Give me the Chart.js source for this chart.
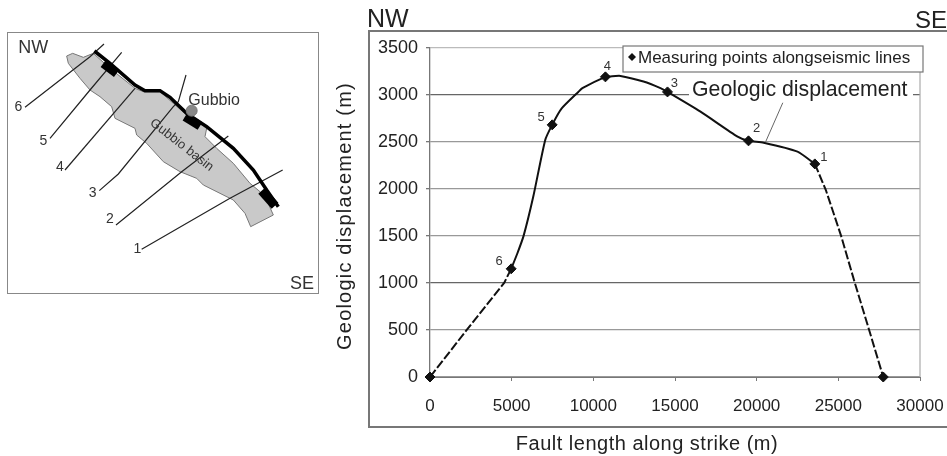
<!DOCTYPE html>
<html><head><meta charset="utf-8">
<script src="https://cdn.jsdelivr.net/npm/chart.js@4"></script>
<style>
html,body{margin:0;padding:0;background:#fff;overflow:hidden}
#wrap{position:relative;width:947px;height:456px}
canvas{position:absolute;display:block}
#frameMain{position:absolute;left:368px;top:30px;width:590px;height:394px;border:2px solid #777;box-sizing:content-box}
#frameMap{position:absolute;left:7px;top:32px;width:310px;height:260px;border:1.5px solid #888}
</style></head><body>
<div id="wrap">
<div id="frameMain"></div><div id="frameMap"></div>
<canvas id="main" width="947" height="456" style="left:0;top:0"></canvas>
<canvas id="map" width="330" height="290" style="left:0;top:20px"></canvas>
</div>
<script>
// ---- profile data (fault length m, displacement m)
const measuringX = [0, 4970, 7480, 10740, 14540, 19500, 23560, 27750];
const measuringY = [0, 1150, 2680, 3190, 3030, 2510, 2265, 0];
const solidX = [4970, 5340, 5730, 6320, 7055, 7480, 8040, 9080, 9330, 10740, 11040, 11660, 13070, 14110, 14540, 16560, 18830, 19500, 20430, 22500, 23560];
const solidY = [1150, 1310, 1500, 1915, 2520, 2680, 2850, 3030, 3070, 3190, 3195, 3200, 3140, 3070, 3030, 2820, 2555, 2510, 2490, 2395, 2265];
const dashLeftX = [0, 2250, 4540, 4970];
const dashLeftY = [0, 500, 1000, 1150];
const dashRightX = [23560, 24230, 25170, 26010, 26885, 27750];
const dashRightY = [2265, 1990, 1500, 1000, 500, 0];
const leaderX = [20550, 21600];
const leaderY = [2500, 2915];
const plotEdgeX = [30000, 30000];
const plotEdgeY = [0, 3500];
const pointNames = ['', '6', '5', '4', '3', '2', '1', ''];
const pointNameDx = [0, -12, -11, 2, 7, 8, 9, 0];
const pointNameDy = [0, -7, -7, -10, -8, -12, -6, 0];
const xTitleText = 'Fault length along strike (m)';
const yTitleText = 'Geologic displacement (m)';
const legendText = 'Measuring points alongseismic lines';
const calloutText = 'Geologic displacement';

// ---- map data (sketch coordinates)
const basinOutline = [[200,108],[218,100],[250,112],[280,100],[330,145],[405,205],[430,215],[480,215],[520,250],[560,285],[620,325],[615,350],[650,385],[700,430],[750,490],[780,515],[800,540],[820,585],[752,620],[735,580],[700,540],[660,520],[610,495],[590,475],[540,455],[490,425],[440,370],[410,345],[405,325],[345,295],[335,260],[300,230],[270,210],[240,175],[205,130],[200,108]];
const faultTrace = [[283,93],[330,130],[405,195],[435,212],[480,212],[510,232],[560,280],[620,320],[700,385],[760,450],[800,510],[835,560]];
const faultThick = [[[310,130],[350,160]],[[555,290],[600,318]],[[785,512],[825,557]]];
const seismicLines = [
 [[75,262],[270,110],[312,72]],
 [[150,355],[270,210],[365,97]],
 [[195,450],[405,205]],
 [[298,512],[355,462],[520,260],[535,245],[558,165]],
 [[348,615],[545,455],[685,348]],
 [[425,688],[690,535],[848,450]]
];
const gubbioDot = [[575,272]];
const lineNames = ['6','5','4','3','2','1'];
const lineNamePos = [[55,262],[130,362],[180,440],[278,518],[330,597],[412,686]];

const FONT = '"Liberation Sans", Arial, sans-serif';
const zip = (a, b) => a.map((v, i) => ({x: v, y: b[i]}));
const pts = a => a.map(p => ({x: p[0], y: p[1]}));

const plotRight = {
  id: 'plotRight',
  afterLayout(c) {
    const R = 920, a = c.chartArea, s = c.scales.x;
    a.right = R; a.width = R - a.left;
    s.right = R; s.width = R - s.left; s.paddingRight = 0;
    s.configure();
  }
};

const mainAnnot = {
  id: 'mainAnnot',
  afterDatasetsDraw(c) {
    const ctx = c.ctx, sx = c.scales.x, sy = c.scales.y;
    ctx.save();
    ctx.textBaseline = 'middle';
    // point numbers
    ctx.fillStyle = '#333'; ctx.font = '13px ' + FONT; ctx.textAlign = 'center';
    pointNames.forEach((n, i) => {
      if (n) ctx.fillText(n, sx.getPixelForValue(measuringX[i]) + pointNameDx[i], sy.getPixelForValue(measuringY[i]) + pointNameDy[i]);
    });
    // callout
    ctx.fillStyle = '#fff'; ctx.fillRect(689, 78, 224, 24);
    ctx.fillStyle = '#222'; ctx.font = '21.3px ' + FONT; ctx.textAlign = 'left';
    ctx.fillText(calloutText, 692, 90);
    // legend
    ctx.fillStyle = '#fff'; ctx.strokeStyle = '#777'; ctx.lineWidth = 1.2;
    ctx.fillRect(623, 46, 300, 26); ctx.strokeRect(623, 46, 300, 26);
    ctx.fillStyle = '#111';
    ctx.beginPath(); ctx.moveTo(632,53); ctx.lineTo(636,57); ctx.lineTo(632,61); ctx.lineTo(628,57); ctx.closePath(); ctx.fill();
    ctx.fillStyle = '#222'; ctx.font = '17px ' + FONT;
    ctx.fillText(legendText, 638, 58);
    // compass and axis titles
    ctx.font = '25px ' + FONT; ctx.fillText('NW', 367, 20);
    ctx.textAlign = 'right'; ctx.font = '24px ' + FONT; ctx.fillText('SE', 947, 21);
    ctx.textAlign = 'center'; ctx.font = '20px ' + FONT; ctx.letterSpacing = '0.5px';
    ctx.fillText(xTitleText, 647, 444);
    ctx.translate(345, 216); ctx.rotate(-Math.PI / 2);
    ctx.letterSpacing = '1.2px';
    ctx.fillText(yTitleText, 0, 0);
    ctx.restore();
  }
};

new Chart(document.getElementById('main'), {
  type: 'scatter',
  data: { datasets: [
    { label: legendText, data: zip(measuringX, measuringY), showLine: false, clip: false, pointStyle: 'rectRot', pointRadius: 5, backgroundColor: '#111', borderColor: '#111' },
    { label: 'Geologic displacement', data: zip(solidX, solidY), showLine: true, borderColor: '#111', borderWidth: 2, pointRadius: 0, tension: 0.2 },
    { label: 'left', data: zip(dashLeftX, dashLeftY), showLine: true, borderColor: '#111', borderWidth: 2, borderDash: [9, 2.5], pointRadius: 0 },
    { label: 'right', data: zip(dashRightX, dashRightY), showLine: true, borderColor: '#111', borderWidth: 2, borderDash: [9, 2.5], pointRadius: 0 },
    { label: 'leader', data: zip(leaderX, leaderY), showLine: true, borderColor: '#666', borderWidth: 1, pointRadius: 0 },
    { label: 'plot edge', data: zip(plotEdgeX, plotEdgeY), showLine: true, clip: false, borderColor: '#aaa', borderWidth: 1.2, pointRadius: 0 }
  ]},
  options: {
    responsive: false, animation: false, devicePixelRatio: 1,
    layout: { autoPadding: false, padding: { left: 330, right: 16, top: 47.7, bottom: 0 } },
    plugins: { legend: { display: false }, tooltip: { enabled: false } },
    scales: {
      x: { type: 'linear', min: 0, max: 30000,
        afterFit: s => { s.height = 79; },
        ticks: { stepSize: 5000, color: '#222', font: { family: FONT, size: 17 }, padding: 15, maxRotation: 0, autoSkip: false, callback: v => String(v) },
        grid: { color: 'rgba(0,0,0,0)', tickColor: '#777', tickLength: 4 },
        border: { color: '#777', width: 1 }
      },
      y: { type: 'linear', min: 0, max: 3500,
        afterFit: s => { s.width = 100; },
        ticks: { stepSize: 500, color: '#222', font: { family: FONT, size: 18 }, padding: 8, callback: v => String(v) },
        grid: { color: c => (c.tick.value === 3000 || c.tick.value === 1000) ? '#666' : (c.tick.value === 3500 ? '#bbb' : '#999'), tickColor: '#777', tickLength: 4, lineWidth: 1.3 },
        border: { color: '#777', width: 1.3 }
      }
    }
  },
  plugins: [plotRight, mainAnnot]
});

const mapAnnot = {
  id: 'mapAnnot',
  afterDatasetsDraw(c) {
    const ctx = c.ctx, sx = c.scales.x, sy = c.scales.y;
    const px = v => sx.getPixelForValue(v), py = v => sy.getPixelForValue(v);
    ctx.save();
    ctx.textBaseline = 'middle'; ctx.fillStyle = '#333';
    ctx.textAlign = 'left';
    ctx.font = '18px ' + FONT; ctx.fillText('NW', px(55), py(85));
    ctx.textAlign = 'right'; ctx.fillText('SE', px(942), py(792));
    ctx.textAlign = 'left'; ctx.font = '16px ' + FONT; ctx.fillText('Gubbio', px(565), py(242));
    ctx.textAlign = 'center'; ctx.font = '14px ' + FONT;
    lineNames.forEach((n, i) => ctx.fillText(n, px(lineNamePos[i][0]), py(lineNamePos[i][1])));
    ctx.translate(px(545), py(375)); ctx.rotate(38 * Math.PI / 180);
    ctx.font = '13px ' + FONT; ctx.fillText('Gubbio basin', 0, 0);
    ctx.restore();
  }
};

new Chart(document.getElementById('map'), {
  type: 'scatter',
  data: { datasets: [
    { label: 'Gubbio', data: pts(gubbioDot), showLine: false, pointRadius: 5.5, backgroundColor: '#888', borderColor: '#777' },
    ...faultThick.map((l, i) => ({ label: 'fault segment ' + i, data: pts(l), showLine: true, borderColor: '#000', borderWidth: 9, borderCapStyle: 'butt', pointRadius: 0 })),
    { label: 'fault', data: pts(faultTrace), showLine: true, borderColor: '#000', borderWidth: 3.5, pointRadius: 0 },
    ...seismicLines.map((l, i) => ({ label: 'line ' + lineNames[i], data: pts(l), showLine: true, borderColor: '#222', borderWidth: 1.2, pointRadius: 0 })),
    { label: 'basin', data: pts(basinOutline), showLine: true, fill: 'shape', backgroundColor: '#c9c9c9', borderColor: '#777', borderWidth: 1, pointRadius: 0 }
  ]},
  options: {
    responsive: false, animation: false, devicePixelRatio: 1,
    layout: { autoPadding: false, padding: 0 },
    plugins: { legend: { display: false }, tooltip: { enabled: false } },
    scales: {
      x: { type: 'linear', display: false, min: 0, max: 990 },
      y: { type: 'linear', display: false, min: 0, max: 870, reverse: true }
    }
  },
  plugins: [mapAnnot]
});
</script>
</body></html>
